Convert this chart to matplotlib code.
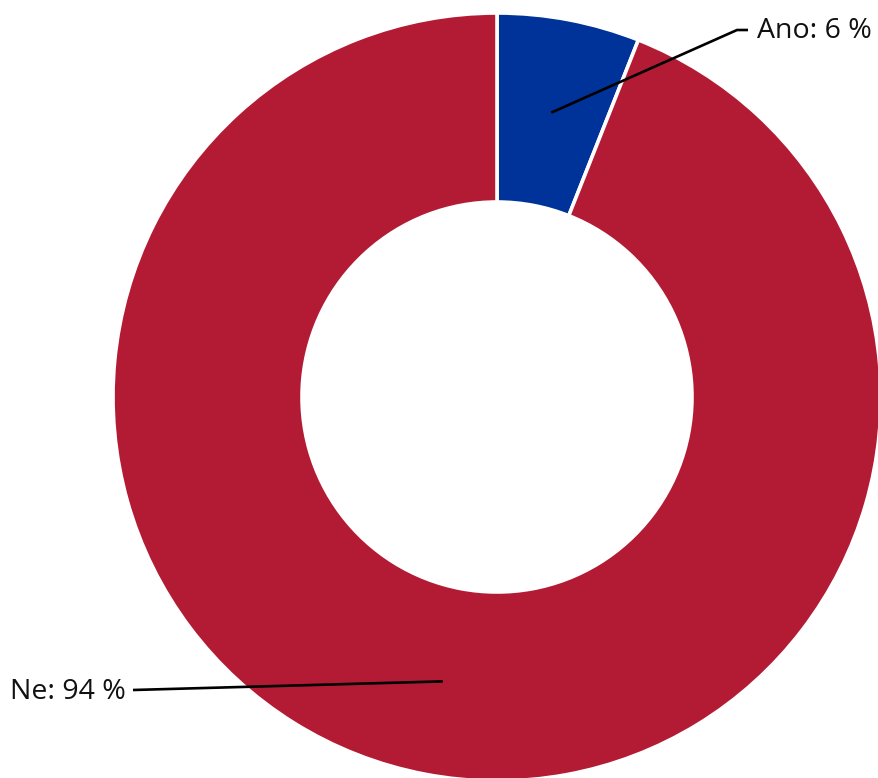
import numpy as np
import matplotlib.pyplot as plt

categories = ["Ano", "Ne"]
shares = [6, 94]
colors = ["#003399", "#B31B34"]

W, H = 879, 778
fig = plt.figure(figsize=(W / 100, H / 100), dpi=100)
ax = fig.add_axes([0, 0, 1, 1])

cx, cy = 497, H - 397
r_out, r_in = 384, 195
ring = r_out - r_in

wedges, _ = ax.pie(
    shares, colors=colors, startangle=90, counterclock=False,
    center=(cx, cy), radius=r_out, frame=True,
    wedgeprops=dict(width=ring, edgecolor="white", linewidth=2.6),
)
ax.set_xlim(0, W)
ax.set_ylim(0, H)
ax.set_aspect("equal")
ax.axis("off")

font = dict(family=["Open Sans", "DejaVu Sans"], size=20.5, color="#111111")
r_mid = (r_out + r_in) / 2

# label layout: (elbow x, elbow y from top, text x, text y from top, align)
layout = {
    "Ano": dict(elbow=(737, 30), end=(748, 30), text=(757, 31), ha="left"),
    "Ne": dict(elbow=None, end=(133, 690), text=(126, 692), ha="right"),
}

for w, name, val in zip(wedges, categories, shares):
    ang = np.deg2rad((w.theta1 + w.theta2) / 2)
    ax_, ay_ = cx + r_mid * np.cos(ang), cy + r_mid * np.sin(ang)
    lay = layout[name]
    xs, ys = [ax_], [ay_]
    if lay["elbow"] is not None:
        xs.append(lay["elbow"][0]); ys.append(H - lay["elbow"][1])
    xs.append(lay["end"][0]); ys.append(H - lay["end"][1])
    ax.plot(xs, ys, color="black", lw=1.9, solid_capstyle="butt")
    ax.text(lay["text"][0], H - lay["text"][1], f"{name}: {val} %",
            ha=lay["ha"], va="center", **font)

fig.savefig("out.png", dpi=100)
